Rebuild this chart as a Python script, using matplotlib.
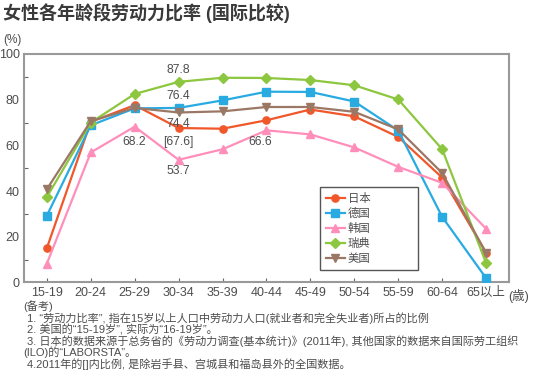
import numpy as np
import matplotlib
matplotlib.use('Agg')
import matplotlib.pyplot as plt

plt.rcParams['font.family'] = ['Liberation Sans', 'Noto Sans CJK SC', 'DejaVu Sans']

ages = ['15-19', '20-24', '25-29', '30-34', '35-39', '40-44', '45-49',
        '50-54', '55-59', '60-64', '65以上']

japan = [15.0, 70.3, 77.6, 67.6, 67.3, 71.0, 75.7, 72.7, 63.7, 45.9, 13.0]
germany = [29.2, 68.8, 76.2, 76.4, 79.7, 83.5, 83.4, 79.2, 66.5, 28.7, 1.9]
korea = [8.2, 56.9, 68.2, 53.7, 58.3, 66.6, 64.8, 59.1, 50.6, 43.6, 23.5]
sweden = [37.4, 70.0, 82.5, 87.8, 89.6, 89.5, 88.6, 86.3, 80.1, 58.3, 8.5]
usa = [40.8, 70.6, 76.4, 74.4, 74.9, 76.8, 76.8, 74.7, 67.0, 47.9, 12.9]

series = [
    ('日本', japan, '#f0572a', 'o'),
    ('德国', germany, '#29abe2', 's'),
    ('韩国', korea, '#ff8fba', '^'),
    ('瑞典', sweden, '#8dc63f', 'D'),
    ('美国', usa, '#9b7866', 'v'),
]

txt = '#4d4d4d'

fig = plt.figure(figsize=(5.34, 3.76), dpi=100)
ax = fig.add_axes([0.0449, 0.2487, 0.9082, 0.6077])

x = np.arange(len(ages))
for name, vals, col, mk in series:
    ms = 4.6 if mk == 'D' else 5.2
    ax.plot(x, vals, color=col, marker=mk, markersize=ms, linewidth=1.6,
            label=name, zorder=3)

# value labels
fs = 8.7
ax.text(3, sweden[3] + 2.5, '87.8', ha='center', va='bottom', fontsize=fs, color=txt)
ax.text(3, germany[3] + 2.5, '76.4', ha='center', va='bottom', fontsize=fs, color=txt)
ax.text(3, usa[3] - 2.5, '74.4', ha='center', va='top', fontsize=fs, color=txt)
ax.text(3, japan[3] - 3.5, '[67.6]', ha='center', va='top', fontsize=fs, color=txt)
ax.text(2, korea[2] - 4.0, '68.2', ha='center', va='top', fontsize=fs, color=txt)
ax.text(3, korea[3] - 2.5, '53.7', ha='center', va='top', fontsize=fs, color=txt)
ax.text(4.85, korea[5] - 2.5, '66.6', ha='center', va='top', fontsize=fs, color=txt)

ax.set_xlim(-0.52, 10.52)
ax.set_ylim(0, 100)
ax.set_yticks([0, 20, 40, 60, 80, 100])
ax.set_yticks([10, 30, 50, 70, 90], minor=True)
ax.set_xticks(x)
ax.set_xticklabels(ages)
ax.tick_params(axis='y', which='major', length=0, labelsize=9, labelcolor=txt, pad=3)
ax.tick_params(axis='y', which='minor', direction='in', length=3, width=0.8, color='#666666')
ax.tick_params(axis='x', direction='in', length=3, width=0.8, color='#666666',
               labelsize=9, labelcolor=txt, pad=3)
for s in ax.spines.values():
    s.set_color('#999999')
    s.set_linewidth(1.5)

leg = ax.legend(loc='upper left', bbox_to_anchor=(0.61, 0.0, 0.202, 0.418),
                mode='expand', borderaxespad=0,
                fancybox=False, framealpha=1, edgecolor='#555555', fontsize=8.2,
                handlelength=1.7, labelspacing=0.36, handletextpad=0.25,
                borderpad=0.5)
leg.get_frame().set_linewidth(1.0)
for t in leg.get_texts():
    t.set_color(txt)

fig.text(0.006, 0.9645, '女性各年龄段劳动力比率 (国际比较)', fontsize=13, fontweight='bold',
         color='#3a3a3a', va='center', ha='left')
fig.text(0.006, 0.894, '(%)', fontsize=8.5, color=txt, va='center', ha='left')
fig.text(0.952, 0.213, '(歳)', fontsize=9, color=txt, va='center', ha='left')

notes = [
    (0.043, '(备考)'),
    (0.050, '1. “劳动力比率”, 指在15岁以上人口中劳动力人口(就业者和完全失业者)所占的比例'),
    (0.050, '2. 美国的“15-19岁”, 实际为“16-19岁”。'),
    (0.050, '3. 日本的数据来源于总务省的《劳动力调查(基本统计)》(2011年), 其他国家的数据来自国际劳工组织'),
    (0.043, '(ILO)的“LABORSTA”。'),
    (0.050, '4.2011年的[]内比例, 是除岩手县、宫城县和福岛县外的全国数据。'),
]
ys = [306.5, 318, 329.5, 341, 352.5, 364]
for (xx, t), yy in zip(notes, ys):
    fig.text(xx, 1 - yy / 376, t, fontsize=8.0, color=txt, va='center', ha='left')

fig.savefig('out.png', dpi=100)
